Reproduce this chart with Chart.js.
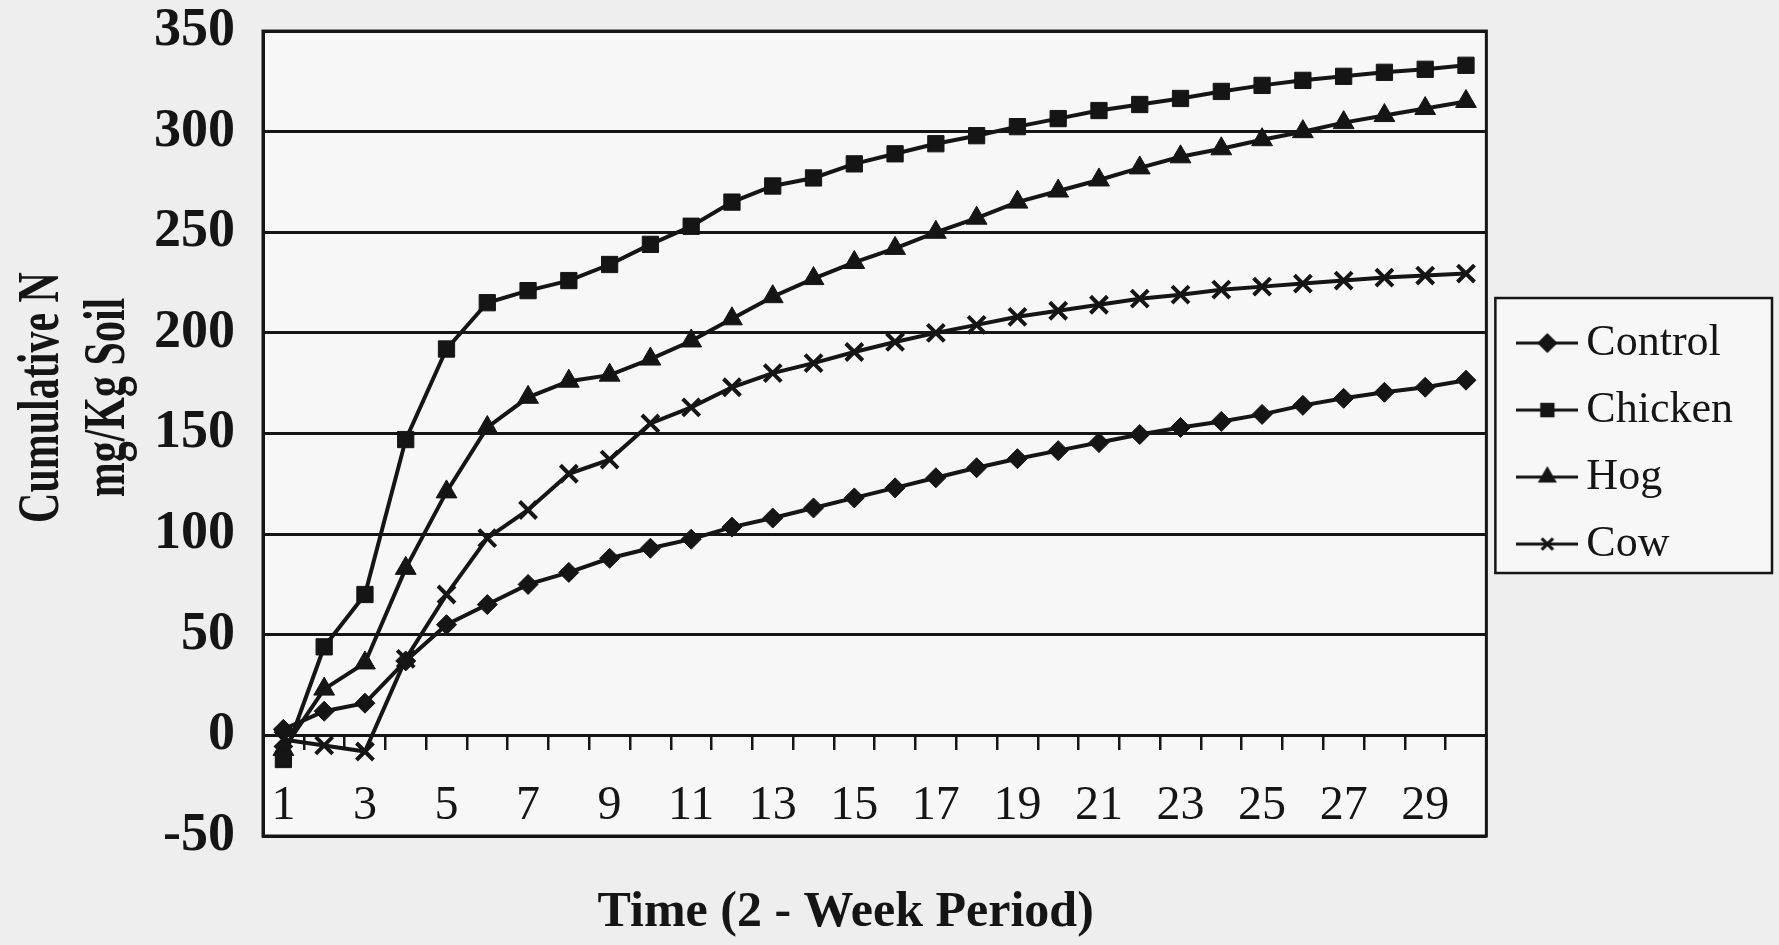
<!DOCTYPE html>
<html>
<head>
<meta charset="utf-8">
<script src="https://cdn.jsdelivr.net/npm/chart.js@4.4.1/dist/chart.umd.min.js"></script>
<style>
  html, body { margin: 0; background: #eeeeee; }
  #wrap { width: 1779px; height: 945px; }
</style>
</head>
<body>
<div id="wrap"><canvas id="chart" width="1779" height="945"></canvas></div>
<script>
// Periods on the x axis (2-week periods)
const periods = [1, 2, 3, 4, 5, 6, 7, 8, 9, 10, 11, 12, 13, 14, 15,
  16, 17, 18, 19, 20, 21, 22, 23, 24, 25, 26, 27, 28, 29, 30]

// Cumulative N, mg/Kg soil
const control = [3, 12, 16, 37, 55, 65, 75, 81, 88, 93, 97.5, 103.5, 108, 113, 118,
  123, 128, 133, 137.5, 141.5, 145.5, 149.5, 153, 156, 159.5, 164, 167.5, 170.5, 173, 176.5]
const chicken = [-12, 44, 70, 147, 192, 215, 221, 226, 234, 244, 253, 265, 273, 277, 284,
  289, 294, 298, 302.5, 306.5, 310.5, 313.5, 316.5, 320, 323, 325.5, 327.5, 329.5, 331, 333]
const hog = [-7, 23, 36, 83, 121, 153, 168, 176, 179, 187, 196, 207, 218, 227, 235,
  242, 250, 257, 265, 270.5, 276, 282, 287.5, 291.5, 296, 300, 304.5, 308, 311.5, 315]
const cow = [-2, -5, -8, 38, 70, 98, 112, 130, 137, 155, 163, 173, 180, 185, 190.5,
  195.5, 200, 204, 208, 211, 214, 217, 219, 221.5, 223, 224.5, 226, 227.5, 228.5, 229.5]

const seriesNames = ["Control", "Chicken", "Hog", "Cow"]
const seriesData = [control, chicken, hog, cow]
const markers = ["rectRot", "rect", "triangle", "crossRot"]
const markerSizes = [10, 11.5, 12, 12]

const yTitleLines = ["Cumulative N", "mg/Kg Soil"]
const xTitle = "Time (2 - Week Period)"

const ink = "#151515"
const serif = "'Liberation Serif', 'Times New Roman', serif"

// Small line + marker picture for each legend entry
function legendIcon(style) {
  const c = document.createElement("canvas")
  c.width = 62
  c.height = 24
  const g = c.getContext("2d")
  g.strokeStyle = ink
  g.fillStyle = ink
  g.lineWidth = 3
  g.beginPath()
  g.moveTo(0, 12)
  g.lineTo(62, 12)
  g.stroke()
  Chart.helpers.drawPoint(g, { pointStyle: style, radius: 8, borderWidth: style === "crossRot" ? 3 : 1, rotation: 0 }, 31, 12)
  return c
}

function legendRect(chart) {
  const boxes = chart.legend ? chart.legend.legendHitBoxes : []
  if (!boxes.length) return null
  const left = Math.min(...boxes.map(b => b.left)) - 35
  const right = Math.max(...boxes.map(b => b.left + b.width)) + 39
  const top = Math.min(...boxes.map(b => b.top)) - 23
  const bottom = Math.max(...boxes.map(b => b.top + b.height)) + 7
  return { left, top, width: right - left, height: bottom - top }
}

// Paper background, plot frame and legend frame
const framePlugin = {
  id: "frame",
  beforeDraw(chart) {
    const { ctx, chartArea: a } = chart
    ctx.save()
    ctx.fillStyle = "#eeeeee"
    ctx.fillRect(0, 0, chart.width, chart.height)
    ctx.fillStyle = "#f7f7f7"
    ctx.fillRect(a.left, a.top, a.width, a.height)
    const r = legendRect(chart)
    if (r) ctx.fillRect(r.left, r.top, r.width, r.height)
    ctx.restore()
  },
  afterDraw(chart) {
    const { ctx, chartArea: a } = chart
    ctx.save()
    ctx.strokeStyle = ink
    ctx.lineWidth = 3
    ctx.strokeRect(a.left, a.top, a.width, a.height)
    const r = legendRect(chart)
    if (r) {
      ctx.lineWidth = 2.5
      ctx.strokeRect(r.left, r.top, r.width, r.height)
    }
    ctx.restore()
  }
}

// Axis titles: the y title is a narrow bold serif, so it is squeezed along its length
const axisTitles = {
  id: "axisTitles",
  afterDraw(chart) {
    const { ctx, chartArea: a } = chart
    ctx.save()
    ctx.fillStyle = ink
    ctx.textAlign = "center"
    ctx.textBaseline = "middle"
    ctx.font = `bold 60px ${serif}`
    const cy = (a.top + a.bottom) / 2 - 36
    yTitleLines.forEach((line, i) => {
      ctx.save()
      ctx.translate(a.left - 221 + i * 66, cy)
      ctx.rotate(-Math.PI / 2)
      ctx.scale(0.7, 1)
      ctx.fillText(line, 0, 0)
      ctx.restore()
    })
    ctx.font = `bold 50px ${serif}`
    ctx.fillText(xTitle, (a.left + a.right) / 2 - 29, a.bottom + 77)
    ctx.restore()
  }
}

const icons = markers.map(legendIcon)

new Chart(document.getElementById("chart"), {
  type: "line",
  data: {
    labels: periods.map(String),
    datasets: seriesNames.map((name, i) => ({
      label: name,
      data: seriesData[i],
      borderColor: ink,
      backgroundColor: ink,
      borderWidth: 4,
      pointStyle: markers[i],
      pointRadius: markerSizes[i],
      pointBackgroundColor: ink,
      pointBorderColor: ink,
      pointBorderWidth: markers[i] === "crossRot" ? 4 : 1,
      tension: 0
    }))
  },
  options: {
    responsive: false,
    animation: false,
    layout: { padding: { top: 31, right: 36, bottom: 109, left: 154 } },
    plugins: {
      tooltip: { enabled: false },
      title: { display: false },
      legend: {
        position: "right",
        fullSize: false,
        align: "center",
        // empty title only nudges the entries down a little
        title: { display: true, text: "", padding: 0, font: { size: 20, lineHeight: 1 } },
        labels: {
          usePointStyle: true,
          pointStyleWidth: 34,
          padding: 23,
          color: ink,
          font: { family: serif, size: 44 },
          generateLabels: (chart) => chart.data.datasets.map((ds, i) => ({
            text: ds.label,
            pointStyle: icons[i],
            fillStyle: ink,
            strokeStyle: ink,
            lineWidth: 0,
            fontColor: ink,
            hidden: false,
            datasetIndex: i
          }))
        }
      }
    },
    scales: {
      x: {
        type: "category",
        position: { y: 0 },
        offset: true,
        grid: {
          offset: true,
          drawOnChartArea: false,
          drawTicks: true,
          tickLength: 13,
          color: ink,
          lineWidth: 2.5
        },
        border: { display: true, color: ink, width: 3 },
        ticks: {
          autoSkip: false,
          maxRotation: 0,
          minRotation: 0,
          padding: 0,
          color: ink,
          // tall line box keeps the labels well below the tick marks
          font: { family: serif, size: 48, lineHeight: 2.41 },
          // only every other period is labelled
          callback: function (value, index) {
            return index % 2 === 0 ? this.getLabelForValue(value) : ""
          }
        }
      },
      y: {
        min: -50,
        max: 350,
        ticks: {
          stepSize: 50,
          padding: 0,
          color: ink,
          font: { family: serif, size: 54, weight: "bold", lineHeight: 1.15 }
        },
        grid: {
          color: ink,
          lineWidth: 3,
          drawTicks: true,
          tickLength: 28,
          tickColor: "rgba(0, 0, 0, 0)"
        },
        border: { color: ink, width: 3 }
      },
      // empty axis that only keeps a gap between the plot and the legend
      gap: {
        type: "linear",
        position: "right",
        display: true,
        grid: { display: false },
        border: { display: false },
        ticks: { display: false },
        afterFit: (scale) => { scale.width = 21 }
      }
    }
  },
  plugins: [framePlugin, axisTitles]
})
</script>
</body>
</html>
